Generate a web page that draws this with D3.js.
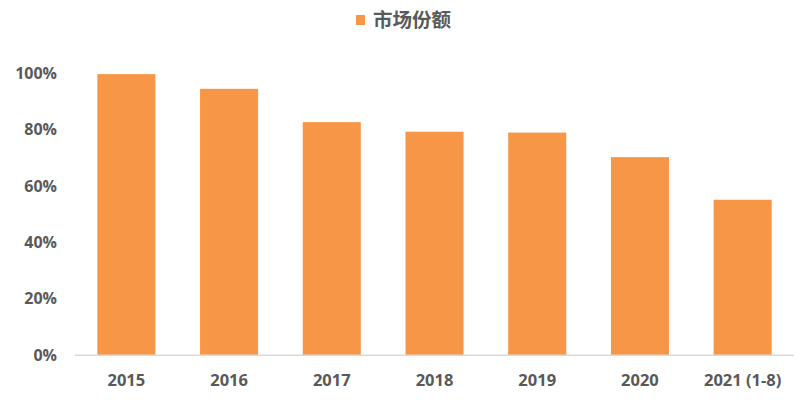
<!DOCTYPE html>
<html><head><meta charset="utf-8">
<script src="https://cdn.jsdelivr.net/npm/d3@7"></script>
<style>body{margin:0;background:#fff}</style>
</head><body>
<svg id="c" width="800" height="400"></svg>
<script>
const categories = ["2015","2016","2017","2018","2019","2020","2021 (1-8)"];
const shares = [0.996, 0.944, 0.826, 0.792, 0.789, 0.702, 0.551];
const yTicks = [0, 0.2, 0.4, 0.6, 0.8, 1.0];
const seriesName = "市场份额";

const svg = d3.select("#c");
const x = d3.scaleBand().domain(categories).range([75, 794]).paddingInner(0.435).paddingOuter(0.2175);
const y = d3.scaleLinear().domain([0, 1]).range([355.3, 73]);
const font = "'Open Sans', 'Noto Sans', sans-serif";
const txt = "#595959";

svg.append("g").selectAll("rect").data(categories).join("rect")
  .attr("x", d => x(d)).attr("width", x.bandwidth())
  .attr("y", (d,i) => y(shares[i])).attr("height", (d,i) => y(0) - y(shares[i]))
  .attr("fill", "#f79646");

const xa = svg.append("g").attr("transform", `translate(0,${y(0)})`)
  .call(d3.axisBottom(x).tickSize(0).tickPadding(19));
xa.select(".domain").attr("stroke", "#d9d9d9").attr("stroke-width", 1.5).attr("d", "M75,0H794");
xa.selectAll("text").attr("font-family", font).attr("font-weight", "bold").attr("font-size", 16.5).attr("fill", txt);

const ya = svg.append("g").attr("transform", "translate(57,0)")
  .call(d3.axisLeft(y).tickValues(yTicks).tickFormat(d3.format(".0%")).tickSize(0).tickPadding(0));
ya.select(".domain").remove();
ya.selectAll("text").attr("font-family", font).attr("font-weight", "bold").attr("font-size", 16).attr("fill", txt);

const lg = svg.append("g");
lg.append("rect").attr("x", 356).attr("y", 15).attr("width", 9).attr("height", 10).attr("fill", "#f79646");
lg.append("text").attr("x", 373).attr("y", 20).attr("dy", "0.35em")
  .attr("font-family", "'Noto Sans CJK SC', sans-serif").attr("font-size", 19.5).attr("font-weight", "bold")
  .attr("fill", txt).text(seriesName);
</script>
</body></html>
